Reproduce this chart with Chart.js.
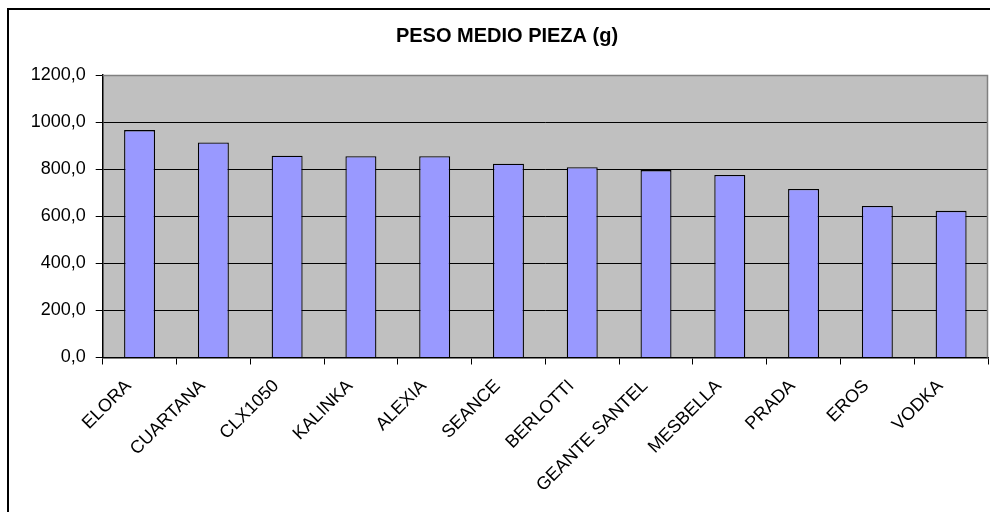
<!DOCTYPE html>
<html>
<head>
<meta charset="utf-8">
<script src="https://cdn.jsdelivr.net/npm/chart.js@4"></script>
<style>
  html, body { margin: 0; padding: 0; background: #fff; }
  #wrap { position: relative; width: 990px; height: 512px; }
  #frame { position: absolute; left: 7px; top: 8px; width: 1000px; height: 520px; border: 2px solid #000; box-sizing: border-box; }
  canvas { position: absolute; left: 0; top: 0; }
</style>
</head>
<body>
<div id="wrap">
  <div id="frame"></div>
  <canvas id="chart" width="990" height="512"></canvas>
</div>
<script>
// data
const categories = ['ELORA', 'CUARTANA', 'CLX1050', 'KALINKA', 'ALEXIA', 'SEANCE', 'BERLOTTI', 'GEANTE SANTEL', 'MESBELLA', 'PRADA', 'EROS', 'VODKA'];
const pesoMedio = [966, 913, 857, 855, 855, 823, 808, 796, 775, 716, 644, 623];
const yTicks = [0, 200, 400, 600, 800, 1000, 1200];

const FONT = 'Arial, "Liberation Sans", sans-serif';

// grey plot background + frame like the Excel chart
const plotArea = {
    id: 'plotArea',
    afterLayout(chart) {
        // excel centres the title a bit right of the canvas centre
        chart.titleBlock.left += 26;
    },
    beforeDraw(chart) {
        const { ctx, chartArea: a } = chart;
        ctx.save();
        ctx.fillStyle = '#c0c0c0';
        ctx.fillRect(a.left, a.top, a.right - a.left, a.bottom - a.top);
        ctx.restore();
    },
    afterDatasetsDraw(chart) {
        const { ctx, chartArea: a } = chart;
        ctx.save();
        ctx.strokeStyle = '#808080';
        ctx.lineWidth = 1.5;
        ctx.beginPath();
        ctx.moveTo(a.left, a.top + 0.5);
        ctx.lineTo(a.right - 0.5, a.top + 0.5);
        ctx.lineTo(a.right - 0.5, a.bottom);
        ctx.stroke();
        ctx.restore();
    }
};

new Chart(document.getElementById('chart'), {
    type: 'bar',
    data: {
        labels: categories,
        datasets: [{
            data: pesoMedio,
            backgroundColor: '#9999ff',
            borderColor: '#000000',
            borderWidth: 1.3,
            categoryPercentage: 1,
            barPercentage: 0.42
        }]
    },
    plugins: [plotArea],
    options: {
        responsive: false,
        animation: false,
        layout: { padding: { left: 0, right: 2, top: 0, bottom: 0 } },
        plugins: {
            legend: { display: false },
            tooltip: { enabled: false },
            title: {
                display: true,
                text: 'PESO MEDIO PIEZA (g)',
                color: '#000',
                font: { family: FONT, size: 20, weight: 'bold', lineHeight: 1.2 },
                padding: { top: 24, bottom: 27 }
            }
        },
        scales: {
            x: {
                offset: true,
                grid: {
                    offset: true,
                    drawOnChartArea: false,
                    drawTicks: true,
                    tickLength: 7,
                    color: '#000'
                },
                border: { color: '#000', width: 1.5 },
                ticks: {
                    color: '#000',
                    font: { family: FONT, size: 18 },
                    maxRotation: 45,
                    minRotation: 45,
                    autoSkip: false,
                    padding: 11,
                    labelOffset: -11
                },
                afterFit(s) { s.height = 154.5; }
            },
            y: {
                min: 0,
                max: 1200,
                afterBuildTicks(s) { s.ticks = yTicks.map(v => ({ value: v })); },
                grid: {
                    color: '#000',
                    lineWidth: 1,
                    tickLength: 7
                },
                border: { color: '#000', width: 1.5 },
                ticks: {
                    color: '#000',
                    font: { family: FONT, size: 18 },
                    padding: 10,
                    callback: v => v.toFixed(1).replace('.', ',')
                },
                afterFit(s) { s.width = 102.7; }
            }
        }
    }
});
</script>
</body>
</html>
